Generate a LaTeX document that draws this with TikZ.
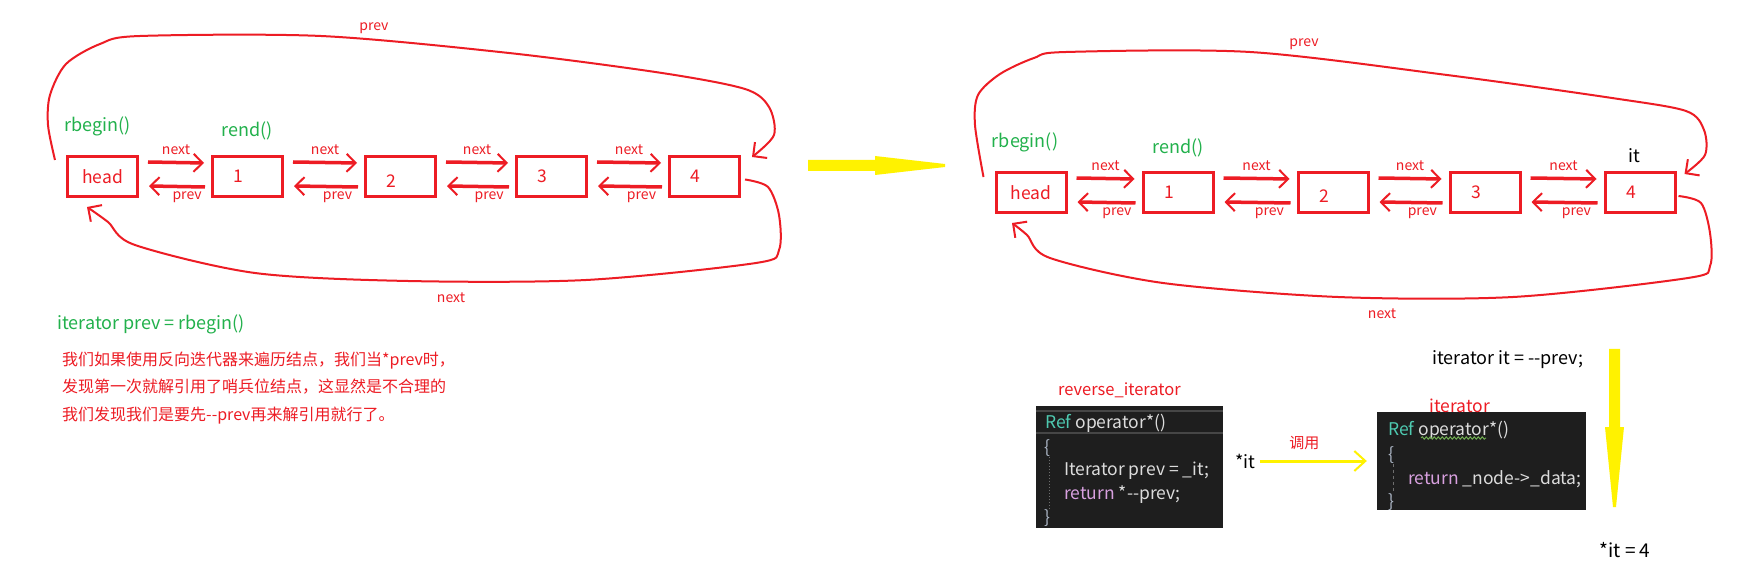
\documentclass[tikz,border=0pt]{standalone}
\usepackage{fontspec}
\newfontfamily\cjk{Noto Sans CJK SC}
\usetikzlibrary{positioning,arrows.meta,decorations.pathmorphing}
\definecolor{pred}{RGB}{237,28,36}
\definecolor{pgreen}{RGB}{34,177,76}
\definecolor{pyellow}{RGB}{255,242,0}
\definecolor{codebg}{RGB}{30,30,30}
\definecolor{vsteal}{RGB}{78,201,176}
\definecolor{vsfg}{RGB}{220,220,220}
\definecolor{vskw}{RGB}{216,160,223}
\definecolor{vsbrace}{RGB}{170,180,195}
\definecolor{vsline}{RGB}{70,70,70}
\definecolor{vsguide}{RGB}{110,110,110}
\definecolor{vswarn}{RGB}{110,170,80}
\newcommand\pxfont[1]{\cjk\fontsize{#1}{#1}\selectfont}

\begin{document}
\begin{tikzpicture}[x=1pt,y=-1pt,
    box/.style={draw=pred,line width=3pt,minimum width=70pt,minimum height=40pt,
                inner sep=0pt,text=pred,font=\pxfont{17.5}},
    num/.style={text=pred,font=\pxfont{17.5},xshift=-9pt},
    nx/.style={pred,line width=3.5pt,-{Straight Barb[length=9pt,width=18pt,line width=2pt]}},
    ring/.style={pred,line width=2pt,-{Straight Barb[length=10pt,width=20pt,line width=2pt]}},
    lbl/.style={text=pred,font=\pxfont{14},inner sep=1pt},
    lbl2/.style={text=pred,font=\pxfont{16.5},inner sep=0pt},
    tag/.style={text=pgreen,font=\pxfont{18},inner sep=0pt},
    plain/.style={text=black,font=\pxfont{18},inner sep=0pt},
    codebox/.style={fill=codebg,inner sep=0pt},
    code/.style={font=\pxfont{17.5},inner sep=0pt,anchor=west,text=vsfg},
    guide/.style={vsguide,line width=1pt},
    callarr/.style={pyellow,line width=3pt,-{Straight Barb[length=11pt,width=20pt,line width=2pt]}}]
    \path[fill=white,use as bounding box] (0,0) rectangle (1754,577);

    % left list
    \node[box] (lh) at (102.5,176.5) {head};
    \node[box,right=72pt of lh,label={[num]center:1}] (l1) {};
    \node[box,right=80pt of l1,label={[num,yshift=-5pt]center:2}] (l2) {};
    \node[box,right=78pt of l2,label={[num]center:3}] (l3) {};
    \node[box,right=80pt of l3,label={[num]center:4}] (l4) {};
    \node[tag,above=19pt of lh,xshift=-5pt] (lrb) {rbegin()};
    \node[tag,above=15pt of l1] (lre) {rend()};

    % right list
    \node[box] (rh) at (1031,192.5) {head};
    \node[box,right=74pt of rh,label={[num]center:1}] (r1) {};
    \node[box,right=82pt of r1,label={[num,yshift=-4pt]center:2}] (r2) {};
    \node[box,right=79pt of r2,label={[num]center:3}] (r3) {};
    \node[box,right=82pt of r3,label={[num]center:4}] (r4) {};
    \node[tag,above=19pt of rh,xshift=-6pt] (rrb) {rbegin()};
    \node[tag,above=14pt of r1] (rre) {rend()};
    \node[plain,above=8pt of r4,xshift=-6pt] (rit) {it};

    \foreach \a/\b in {lh/l1,l1/l2,l2/l3,l3/l4,rh/r1,r1/r2,r2/r3,r3/r4}{
        \draw[nx] ([shift={(9,7)}]\a.north east) -- node[lbl,above=5pt] (nx\a) {next} ([shift={(-7,8)}]\b.north west);
        \draw[nx] ([shift={(-6,32)}]\b.north west) -- node[lbl,below=2pt,pos=.32] (pv\a) {prev} ([shift={(10,31)}]\a.north east);
    }

    % wrap-around links
    \coordinate (lta) at ([shift={(-11,5)}]lh.north west);
    \coordinate (ltb) at ([shift={(11,2)}]l4.north east);
    \coordinate (lba) at ([shift={(4,3)}]l4.east);
    \coordinate (lbb) at ([shift={(21,9)}]lh.south west);
    \coordinate (rta) at ([shift={(-11,6)}]rh.north west);
    \coordinate (rtb) at ([shift={(8,3)}]r4.north east);
    \coordinate (rba) at ([shift={(2,3.5)}]r4.east);
    \coordinate (rbb) at ([shift={(17.5,9)}]rh.south west);
    \draw[ring] plot[smooth,tension=.5] coordinates {(lta) (48,125) (50,95) (66,64) (100,44) (140,36) (321,36)
        (509,53) (662,73) (745,89) (769,107) (774,135) (ltb)};
    \draw[ring] plot[smooth,tension=.5] coordinates {(lba) (768,187) (779,215) (779,250) (756,263) (586,280)
        (408,281) (255,273) (135,245) (108,222) (lbb)};
    \draw[ring] plot[smooth,tension=.5] coordinates {(rta) (975,125) (978,95) (1000,74) (1034,58) (1066,52)
        (1250,52) (1447,75) (1612,98) (1686,111) (1704,130) (1705,155) (rtb)};
    \draw[ring] plot[smooth,tension=.5] coordinates {(rba) (1701,203) (1710,233) (1710,266) (1688,278) (1513,297)
        (1338,297) (1163,283) (1050,258) (1027,235) (rbb)};
    \node[lbl] (ltp) at (374,28) {prev};
    \node[lbl] (lbn) at (451,298) {next};
    \node[lbl] (rtp) at (1304,44) {prev};
    \node[lbl] (rbn) at (1382,314) {next};

    % big yellow arrows
    \coordinate (ya) at (808,165.5);
    \fill[pyellow] (ya) ++(0,-5.5) -- ++(67,0) -- ++(0,-4) -- ++(70,8) -- ++(0,3) -- ++(-70,8)
        -- ++(0,-4) -- ++(-67,0) -- cycle;
    \coordinate (yv) at (1614.5,349);
    \fill[pyellow] (yv) ++(-5.5,0) -- ++(0,78) -- ++(-4,0) -- ++(8,80) -- ++(3,0) -- ++(8,-80)
        -- ++(-4,0) -- ++(0,-78) -- cycle;

    % notes on the left
    \node[tag,anchor=west] (itp) at (57,324) {iterator prev = rbegin()};
    \node[anchor=west,inner sep=0pt,align=left,text=pred,font={\cjk\fontsize{16}{27.5}\selectfont}] (why) at (62,388)
        {我们如果使用反向迭代器来遍历结点，我们当*prev时，\\发现第一次就解引用了哨兵位结点，这显然是不合理的\\我们发现我们是要先--prev再来解引用就行了。};

    % reverse_iterator code
    \node[codebox,minimum width=187pt,minimum height=122pt] (cb1) at (1129.5,467) {};
    \draw[vsline,line width=2pt] ([yshift=-5pt]cb1.north west) -- ([yshift=-5pt]cb1.north east);
    \draw[vsline,line width=2pt] ([yshift=-27pt]cb1.north west) -- ([yshift=-27pt]cb1.north east);
    \node[lbl2,above=8pt of cb1,xshift=-10pt] (rvl) {reverse\_iterator};
    \node[code] (c1a) at (1045,423) {\textcolor{vsteal}{Ref} operator*()};
    \node[code,text=vsbrace] (c1b) at (1044,448) {\{};
    \node[code] (c1c) at (1064,471) {Iterator prev = \_it;};
    \node[code] (c1d) at (1064,495) {\textcolor{vskw}{return} *--prev;};
    \node[code,text=vsbrace] (c1e) at (1044,518) {\}};
    \draw[guide,dotted] ([xshift=5pt]c1b.south west) -- ([xshift=5pt]c1e.north west);

    % iterator code
    \node[codebox,minimum width=209pt,minimum height=98pt] (cb2) at (1481.5,461) {};
    \node[lbl2,font=\pxfont{17.5},above=-1pt of cb2,xshift=-21.5pt] (itl) {iterator};
    \node[code] (c2a) at (1388,430) {\textcolor{vsteal}{Ref} operator*()};
    \draw[vswarn,line width=1pt,decorate,decoration={snake,amplitude=1.2pt,segment length=4pt}]
        ([shift={(33,8)}]c2a.west) -- ([shift={(98,8)}]c2a.west);
    \node[code,text=vsbrace] (c2b) at (1388,455) {\{};
    \node[code] (c2c) at (1408,479) {\textcolor{vskw}{return} \_node->\_data;};
    \node[code,text=vsbrace] (c2d) at (1388,502) {\}};
    \draw[guide,dashed] ([xshift=5pt]c2b.south west) -- ([xshift=5pt]c2d.north west);

    % call
    \node[plain] (sit) at (1245.5,461) {*it};
    \draw[callarr] ([xshift=4pt]sit.east) -- node[lbl2,font=\pxfont{15},above=9.5pt,xshift=-9pt] (call) {调用}
        ([xshift=-10pt]cb2.west);
    \node[plain,anchor=west] (itd) at (1432,360) {iterator it = --prev;};
    \node[plain,font=\pxfont{19}] (res) at (1625,550) {*it = 4};
\end{tikzpicture}
\end{document}
